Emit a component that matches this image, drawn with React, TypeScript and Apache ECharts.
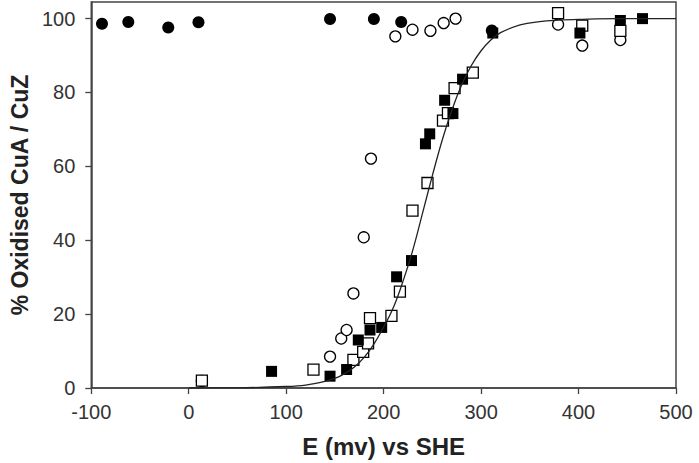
import React, { useEffect, useRef } from "react";
import * as echarts from "echarts";

// Filled circles
const filledCircles: [number, number][] = [
  [-89, 98.6], [-62, 99.1], [-21, 97.6], [10, 99.0], [145, 99.9],
  [190, 99.9], [218, 99.1], [311, 96.8],
];

// Open circles
const openCircles: [number, number][] = [
  [13.5, 1.9], [145, 8.5], [156.5, 13.4], [162, 15.7], [169, 25.6],
  [179.6, 40.8], [187, 62.1], [212, 95.2], [229.6, 97.0], [248, 96.7],
  [261.6, 98.8], [273.8, 100], [379, 98.4], [403.8, 92.7], [442.9, 94.2],
];

// Filled squares
const filledSquares: [number, number][] = [
  [85, 4.5], [145, 3.2], [162, 5.0], [174, 13.0], [186, 15.7],
  [198, 16.4], [213.3, 30.1], [228.6, 34.5], [242.9, 66.1], [247.3, 68.8],
  [262.6, 77.9], [271.1, 74.3], [281, 83.6], [312, 96.1], [401.4, 96.1],
  [442.9, 99.5], [465.6, 100],
];

// Open squares
const openSquares: [number, number][] = [
  [13.5, 2.0], [128, 5.0], [169, 7.6], [179, 9.8], [184, 12.1],
  [186, 18.9], [208, 19.5], [216.7, 26.1], [229.6, 48.0], [245, 55.5],
  [260.9, 72.4], [266, 74.4], [272.8, 81.2], [291.5, 85.4], [379, 101.5],
  [403.8, 98.1], [442.9, 96.7],
];

// Fitted titration curve
const curveE = [0, 50, 100, 120, 140, 150, 160, 170, 180, 190, 200, 210, 220, 230, 240, 250, 260, 270, 280, 290, 300, 310, 320, 340, 360, 380, 400, 440, 500];
const curveY = [0, 0.05, 0.4, 0.8, 1.8, 2.6, 3.9, 5.7, 8.3, 11.9, 16.5, 21.8, 29.0, 37.4, 47.4, 57.5, 67.0, 75.2, 82.0, 87.3, 91.3, 94.2, 96.2, 98.3, 99.2, 99.6, 99.8, 100, 100];

const xTicks = [-100, 0, 100, 200, 300, 400, 500];
const yTicks = [0, 20, 40, 60, 80, 100];

export default function App() {
  const ref = useRef<HTMLDivElement>(null);

  useEffect(() => {
    if (!ref.current) return;
    const chart = echarts.init(ref.current, undefined, { renderer: "svg" });
    const font = "'Liberation Sans', Arial, Helvetica, sans-serif";
    const axisColor = "#444";
    const openStyle = { color: "#fff", borderColor: "#000", borderWidth: 1.3, opacity: 1 };
    const filledStyle = { color: "#000", opacity: 1 };

    chart.setOption({
      animation: false,
      backgroundColor: "#fff",
      grid: {
        left: 88,
        right: 23,
        top: 2,
        bottom: 75,
        show: true,
        borderColor: axisColor,
        borderWidth: 1.5,
        backgroundColor: "transparent",
      },
      xAxis: {
        type: "value",
        min: -100,
        max: 500,
        interval: 100,
        name: "E (mv) vs SHE",
        nameLocation: "middle",
        nameGap: 46,
        nameTextStyle: { fontFamily: font, fontSize: 24, fontWeight: "bold", color: "#222" },
        axisLine: { show: true, onZero: false, lineStyle: { color: axisColor, width: 1.5 } },
        axisTick: { show: true, inside: false, length: 6, customValues: xTicks, lineStyle: { color: axisColor, width: 1.3 } },
        axisLabel: { customValues: xTicks, margin: 14, fontFamily: font, fontSize: 20, color: "#333" },
        splitLine: { show: false },
      },
      yAxis: {
        type: "value",
        min: 0,
        max: 104.5,
        interval: 20,
        name: "% Oxidised CuA / CuZ",
        nameLocation: "middle",
        nameGap: 59,
        nameRotate: 90,
        nameTextStyle: { fontFamily: font, fontSize: 23, fontWeight: "bold", color: "#222" },
        axisLine: { show: true, onZero: false, lineStyle: { color: axisColor, width: 1.5 } },
        axisTick: { show: true, inside: false, length: 6, customValues: yTicks, lineStyle: { color: axisColor, width: 1.3 } },
        axisLabel: { customValues: yTicks, margin: 16, fontFamily: font, fontSize: 20, color: "#333" },
        splitLine: { show: false },
      },
      series: [
        {
          type: "scatter",
          data: openCircles,
          symbol: "circle",
          symbolSize: 11,
          itemStyle: openStyle,
          z: 2,
        },
        {
          type: "scatter",
          data: filledCircles,
          symbol: "circle",
          symbolSize: 12,
          itemStyle: filledStyle,
          z: 3,
        },
        {
          type: "scatter",
          data: openSquares,
          symbol: "rect",
          symbolSize: 11,
          itemStyle: openStyle,
          z: 4,
        },
        {
          type: "scatter",
          data: filledSquares,
          symbol: "rect",
          symbolSize: 11,
          itemStyle: filledStyle,
          z: 5,
        },
        {
          type: "line",
          data: curveE.map((e, i) => [e, curveY[i]]),
          smooth: 0.4,
          showSymbol: false,
          lineStyle: { color: "#222", width: 1.3 },
          z: 6,
        },
      ],
    });

    return () => chart.dispose();
  }, []);

  return <div ref={ref} style={{ width: 699, height: 463, position: "absolute", left: 0, top: 0 }} />;
}
